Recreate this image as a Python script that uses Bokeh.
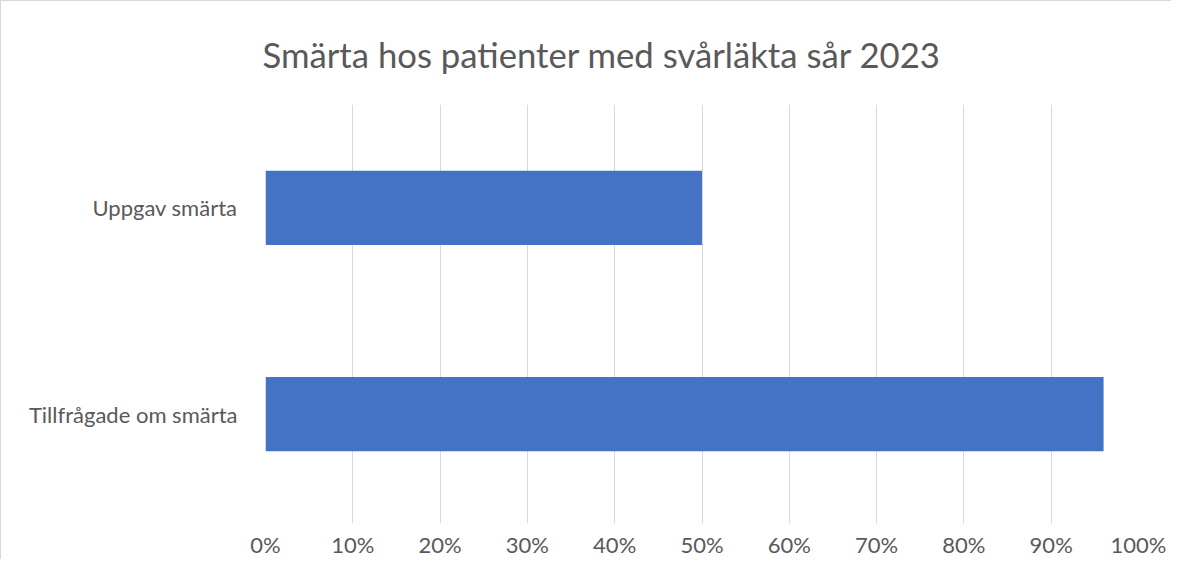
from bokeh.plotting import figure
from bokeh.embed import file_html
from bokeh.resources import INLINE
from bokeh.models import FixedTicker, Range1d, ColumnDataSource

title_text = "Smärta hos patienter med svårläkta sår 2023"
categories = ["Tillfrågade om smärta", "Uppgav smärta"]
values = [96, 50]
tick_values = [0, 10, 20, 30, 40, 50, 60, 70, 80, 90, 100]
tick_labels = ["0%", "10%", "20%", "30%", "40%", "50%", "60%", "70%", "80%", "90%", "100%"]

FONT = "Lato"
TEXT = "#595959"

positions = list(range(len(categories)))
src = ColumnDataSource(dict(y=positions, right=values, cat=categories))

p = figure(width=1171, height=559, output_backend="svg", toolbar_location=None,
           x_range=Range1d(0, 100), y_range=Range1d(-0.531, 1.502),
           title=title_text)
p.min_border_left = 264
p.min_border_right = 34
p.min_border_bottom = 32
p.min_border_top = 102
p.outline_line_color = None

p.title.text_font = FONT
p.title.text_font_size = "34.7px"
p.title.text_font_style = "normal"
p.title.text_color = TEXT
p.title.align = "left"
p.title.offset = -3
p.title.standoff = 60

p.hbar(y="y", right="right", left=0, height=0.36, source=src,
       fill_color="#4472C4", line_color=None)

xa = p.xaxis[0]
xa.ticker = FixedTicker(ticks=tick_values)
xa.major_label_overrides = {t: l for t, l in zip(tick_values, tick_labels)}
xa.axis_line_color = None
xa.major_tick_line_color = None
xa.minor_tick_line_color = None
xa.major_tick_out = 0
xa.major_label_standoff = 7
xa.major_label_text_font = FONT
xa.major_label_text_font_size = "22px"
xa.major_label_text_color = TEXT

ya = p.yaxis[0]
ya.ticker = FixedTicker(ticks=positions)
ya.major_label_overrides = {i: c for i, c in zip(positions, categories)}
ya.axis_line_color = None
ya.major_tick_line_color = None
ya.minor_tick_line_color = None
ya.major_tick_out = 0
ya.major_label_standoff = 28
ya.major_label_text_font = FONT
ya.major_label_text_font_size = "22px"
ya.major_label_text_color = TEXT

p.xgrid.grid_line_color = "#D9D9D9"
p.xgrid.grid_line_width = 1
p.ygrid.grid_line_color = None

p.styles = {"border-top": "1px solid #D9D9D9", "border-left": "1px solid #D9D9D9"}

open("out.html", "w").write(file_html(p, INLINE))
